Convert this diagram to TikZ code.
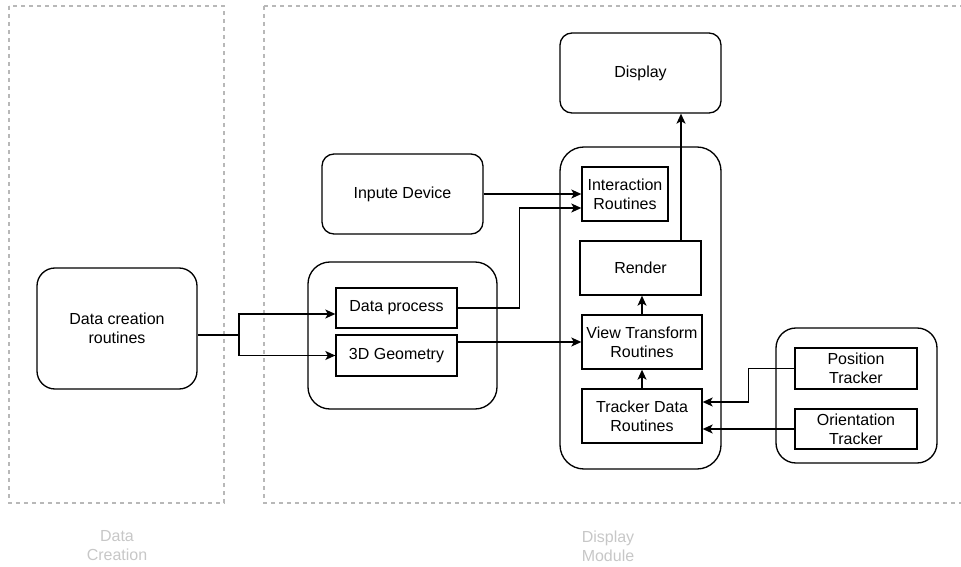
\documentclass[tikz,border=0pt]{standalone}
\usepackage{fontspec}
\setmainfont{Liberation Sans}
\usetikzlibrary{arrows.meta}
\begin{document}
\begin{tikzpicture}[x=1pt,y=-1pt,
  base/.style={draw=black,line width=1.33pt,align=center,inner sep=0pt,
    font=\fontsize{16}{19}\selectfont},
  rbox/.style={base,rounded corners=#1},
  sbox/.style={base},
  zone/.style={draw=black!28,line width=1.2pt,dash pattern=on 4pt off 4pt},
  zlabel/.style={text=black!22,align=center,font=\fontsize{16}{19}\selectfont},
  arr/.style={line width=1.33pt,-{Stealth[length=10pt,width=9pt,inset=2.5pt]}},
  ln/.style={line width=1.33pt}]
\useasboundingbox (0,0) rectangle (961,567);
% zones
\draw[zone] (9,6) rectangle (224,503);
\draw[zone] (264,6) -- (968,6);
\draw[zone] (264,6) -- (264,503) -- (968,503);
\node[zlabel] (zl1) at (117,546) {Data\\Creation};
\node[zlabel] (zl2) at (608,546) {Display\\Module};
% containers
\node[rbox=24pt,minimum width=161pt,minimum height=322pt] (bigc) at (640.5,308) {};
\node[rbox=22pt,minimum width=189pt,minimum height=147pt] (datac) at (402.5,335.5) {};
\node[rbox=20pt,minimum width=161pt,minimum height=135pt] (trc) at (856.5,395.5) {};
% nodes
\node[rbox=12pt,minimum width=161pt,minimum height=80pt] (display) at (640.5,73) {Display};
\node[rbox=12pt,minimum width=161pt,minimum height=80pt] (input) at (402.5,194) {Inpute Device};
\node[rbox=18pt,minimum width=160pt,minimum height=121pt] (dcr) at (117,328.5) {Data creation\\routines};
\node[sbox,minimum width=86pt,minimum height=54pt] (inter) at (625,194) {Interaction\\Routines};
\node[sbox,minimum width=121pt,minimum height=54pt] (render) at (640.5,268) {Render};
\node[sbox,minimum width=120pt,minimum height=54pt] (view) at (642,342) {View Transform\\Routines};
\node[sbox,minimum width=120pt,minimum height=54pt] (tracker) at (642,416) {Tracker Data\\Routines};
\node[sbox,minimum width=121pt,minimum height=40pt] (dproc) at (396.5,308) {Data process};
\node[sbox,minimum width=121pt,minimum height=41pt] (geo) at (396.5,355.5) {3D Geometry};
\node[sbox,minimum width=122pt,minimum height=41pt] (pos) at (856,368.5) {Position\\Tracker};
\node[sbox,minimum width=122pt,minimum height=40pt] (ori) at (856,429) {Orientation\\Tracker};
% connectors
\coordinate (split) at (239,335);
\draw[ln] (dcr.east |- split) -- (split);
\draw[arr] (split) |- ([yshift=-6pt]dproc.west);
\draw[arr] (split) |- (geo.west);
\draw[arr] (input.east) -- (inter.west);
\draw[arr] (dproc.east) -- ++(62,0) |- ([yshift=-14pt]inter.west);
\draw[arr] (geo.east |- view.west) -- (view.west);
\draw[arr] (view.north) -- (view.north |- render.south);
\draw[arr] (tracker.north) -- (tracker.north |- view.south);
\draw[arr] ([xshift=40.5pt]render.north) -- ([xshift=40.5pt]render.north |- display.south);
\draw[arr] (pos.west) -- ++(-46,0) |- ([yshift=14pt]tracker.east);
\draw[arr] (ori.west) -- (tracker.east |- ori.west);
\end{tikzpicture}
\end{document}
